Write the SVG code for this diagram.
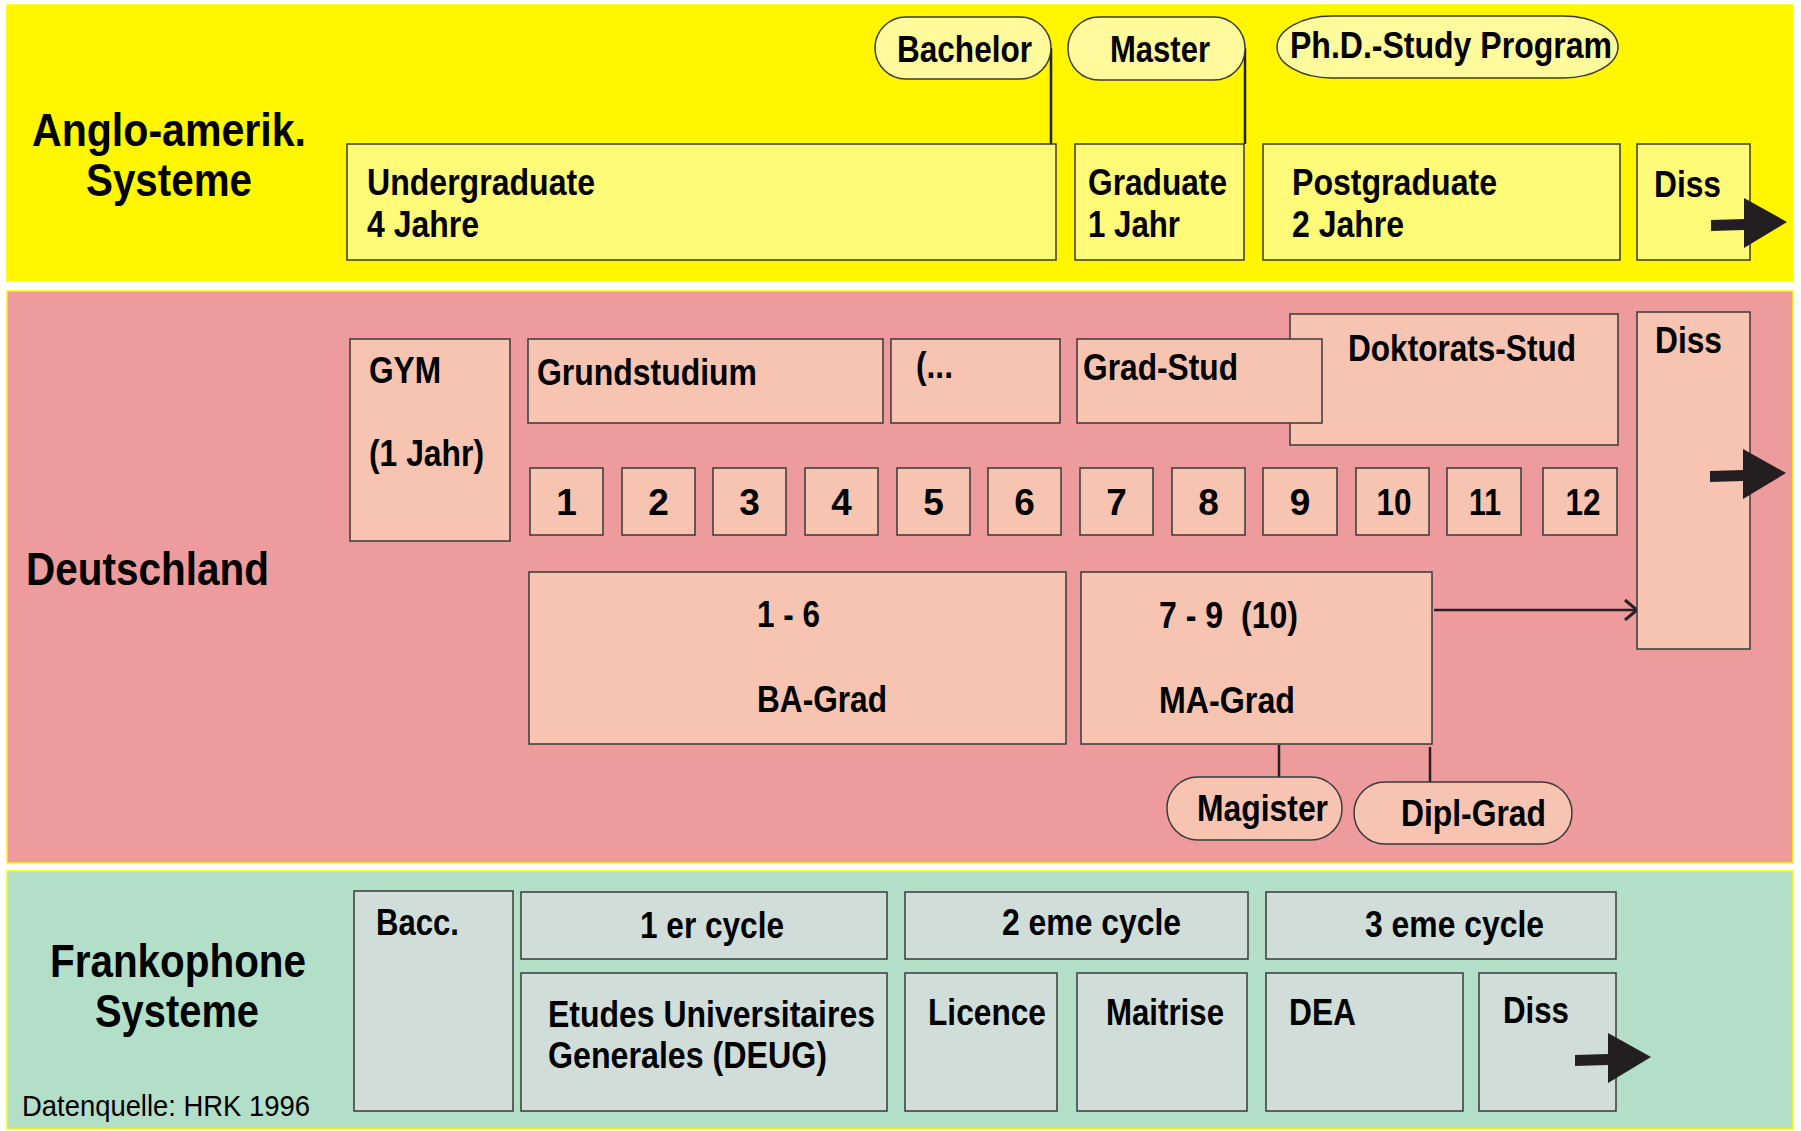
<svg xmlns="http://www.w3.org/2000/svg" width="1801" height="1131" viewBox="0 0 1801 1131">
<style>
  .band { stroke: #FFF600; stroke-width: 1.5; }
  .yb { fill: #FFFA78; stroke: #3a3a3a; stroke-width: 1.5; }
  .yp { fill: #FFFA9C; stroke: #3a3a3a; stroke-width: 1.5; }
  .pb { fill: #F6C4B1; stroke: #3a3a3a; stroke-width: 1.5; }
  .gb { fill: #D0DDD8; stroke: #3a3a3a; stroke-width: 1.5; }
  .t { font-family: "Liberation Sans", Arial, sans-serif; font-weight: bold; font-size: 37px; fill: #000; }
  .h { font-family: "Liberation Sans", Arial, sans-serif; font-weight: bold; font-size: 46px; fill: #000; }
  .src { font-family: "Liberation Sans", Arial, sans-serif; font-weight: normal; font-size: 30px; fill: #000; }
  .n { text-anchor: middle; }
  .conn { stroke: #222; stroke-width: 2.5; fill: none; }
  .thick { fill: #231F20; }
</style>
<defs>
  <path id="bigArrow" d="M0,0 L-43,-24 L-43,-3 L-76,-2 L-76,9 L-43,8 L-43,26 Z"/>
  <marker id="chev" viewBox="0 0 16 22" refX="14" refY="11" markerWidth="16" markerHeight="22" markerUnits="userSpaceOnUse" orient="auto">
    <path d="M2,1 L14,11 L2,21" fill="none" stroke="#222" stroke-width="3"/>
  </marker>
</defs>
<rect width="1801" height="1131" fill="#FFFFFF"/>

<!-- Bands -->
<g id="band-anglo"><rect class="band" x="7" y="5" width="1786" height="276" fill="#FFF600"/></g>
<g id="band-de"><rect class="band" x="7" y="291" width="1786" height="572" fill="#EE9B9D"/></g>
<g id="band-fr"><rect class="band" x="7" y="871" width="1786" height="258" fill="#B3DEC8"/></g>

<!-- Titles -->
<g id="title-anglo">
  <text class="h" x="32" y="146" textLength="274" lengthAdjust="spacingAndGlyphs">Anglo-amerik.</text>
  <text class="h" x="86" y="196" textLength="166" lengthAdjust="spacingAndGlyphs">Systeme</text>
</g>
<g id="title-de"><text class="h" x="26" y="585" textLength="243" lengthAdjust="spacingAndGlyphs">Deutschland</text></g>
<g id="title-fr">
  <text class="h" x="50" y="977" textLength="256" lengthAdjust="spacingAndGlyphs">Frankophone</text>
  <text class="h" x="95" y="1027" textLength="164" lengthAdjust="spacingAndGlyphs">Systeme</text>
  <text class="src" x="22" y="1116" textLength="288" lengthAdjust="spacingAndGlyphs">Datenquelle: HRK 1996</text>
</g>

<!-- Connectors -->
<g id="connectors">
  <line class="conn" x1="1051" y1="48" x2="1051" y2="144"/>
  <line class="conn" x1="1245" y1="48" x2="1245" y2="144"/>
  <line class="conn" x1="1279" y1="745" x2="1279" y2="777"/>
  <line class="conn" x1="1430" y1="747" x2="1430" y2="783"/>
  <line class="conn" x1="1434" y1="610" x2="1637" y2="610" stroke-width="3" marker-end="url(#chev)"/>
</g>

<!-- Anglo nodes -->
<g id="undergraduate">
  <rect class="yb" x="347" y="144" width="709" height="116"/>
  <text class="t" x="367" y="195" textLength="228" lengthAdjust="spacingAndGlyphs">Undergraduate</text>
  <text class="t" x="367" y="237" textLength="112" lengthAdjust="spacingAndGlyphs">4 Jahre</text>
</g>
<g id="graduate">
  <rect class="yb" x="1075" y="144" width="169" height="116"/>
  <text class="t" x="1088" y="195" textLength="139" lengthAdjust="spacingAndGlyphs">Graduate</text>
  <text class="t" x="1088" y="237" textLength="92" lengthAdjust="spacingAndGlyphs">1 Jahr</text>
</g>
<g id="postgraduate">
  <rect class="yb" x="1263" y="144" width="357" height="116"/>
  <text class="t" x="1292" y="195" textLength="205" lengthAdjust="spacingAndGlyphs">Postgraduate</text>
  <text class="t" x="1292" y="237" textLength="112" lengthAdjust="spacingAndGlyphs">2 Jahre</text>
</g>
<g id="diss-anglo">
  <rect class="yb" x="1637" y="144" width="113" height="116"/>
  <text class="t" x="1654" y="197" textLength="67" lengthAdjust="spacingAndGlyphs">Diss</text>
  <use href="#bigArrow" x="1787" y="222" class="thick"/>
</g>
<g id="bachelor">
  <rect class="yp" x="875" y="17" width="176" height="62" rx="31" ry="31"/>
  <text class="t" x="897" y="62" textLength="135" lengthAdjust="spacingAndGlyphs">Bachelor</text>
</g>
<g id="master">
  <rect class="yp" x="1068" y="17" width="177" height="63" rx="31" ry="31"/>
  <text class="t" x="1110" y="62" textLength="100" lengthAdjust="spacingAndGlyphs">Master</text>
</g>
<g id="phd">
  <rect class="yp" x="1277" y="16" width="341" height="62" rx="55" ry="31"/>
  <text class="t" x="1290" y="58" textLength="322" lengthAdjust="spacingAndGlyphs">Ph.D.-Study Program</text>
</g>

<!-- Deutschland nodes -->
<g id="gym">
  <rect class="pb" x="350" y="339" width="160" height="202"/>
  <text class="t" x="369" y="383" textLength="72" lengthAdjust="spacingAndGlyphs">GYM</text>
  <text class="t" x="369" y="466" textLength="115" lengthAdjust="spacingAndGlyphs">(1 Jahr)</text>
</g>
<g id="grundstudium">
  <rect class="pb" x="528" y="339" width="355" height="84"/>
  <text class="t" x="537" y="385" textLength="220" lengthAdjust="spacingAndGlyphs">Grundstudium</text>
</g>
<g id="ellipsis">
  <rect class="pb" x="891" y="339" width="169" height="84"/>
  <text class="t" x="916" y="378" textLength="37" lengthAdjust="spacingAndGlyphs">(...</text>
</g>
<g id="doktorats">
  <rect class="pb" x="1290" y="314" width="328" height="131"/>
  <text class="t" x="1348" y="361" textLength="228" lengthAdjust="spacingAndGlyphs">Doktorats-Stud</text>
</g>
<g id="grad-stud">
  <rect class="pb" x="1077" y="339" width="245" height="84"/>
  <text class="t" x="1083" y="380" textLength="155" lengthAdjust="spacingAndGlyphs">Grad-Stud</text>
</g>
<g id="diss-de">
  <rect class="pb" x="1637" y="312" width="113" height="337"/>
  <text class="t" x="1655" y="353" textLength="67" lengthAdjust="spacingAndGlyphs">Diss</text>
  <use href="#bigArrow" x="1786" y="473" class="thick"/>
</g>
<g id="semesters">
  <rect class="pb" x="530" y="468" width="73" height="67"/><text class="t n" x="566.5" y="515">1</text>
  <rect class="pb" x="622" y="468" width="73" height="67"/><text class="t n" x="658.5" y="515">2</text>
  <rect class="pb" x="713" y="468" width="73" height="67"/><text class="t n" x="749.5" y="515">3</text>
  <rect class="pb" x="805" y="468" width="73" height="67"/><text class="t n" x="841.5" y="515">4</text>
  <rect class="pb" x="897" y="468" width="73" height="67"/><text class="t n" x="933.5" y="515">5</text>
  <rect class="pb" x="988" y="468" width="73" height="67"/><text class="t n" x="1024.5" y="515">6</text>
  <rect class="pb" x="1080" y="468" width="73" height="67"/><text class="t n" x="1116.5" y="515">7</text>
  <rect class="pb" x="1172" y="468" width="73" height="67"/><text class="t n" x="1208.5" y="515">8</text>
  <rect class="pb" x="1263" y="468" width="74" height="67"/><text class="t n" x="1300" y="515">9</text>
  <rect class="pb" x="1356" y="468" width="73" height="67"/><text class="t n" x="1394" y="515" textLength="35" lengthAdjust="spacingAndGlyphs">10</text>
  <rect class="pb" x="1447" y="468" width="74" height="67"/><text class="t n" x="1485" y="515" textLength="32" lengthAdjust="spacingAndGlyphs">11</text>
  <rect class="pb" x="1543" y="468" width="74" height="67"/><text class="t n" x="1583" y="515" textLength="35" lengthAdjust="spacingAndGlyphs">12</text>
</g>
<g id="ba-grad">
  <rect class="pb" x="529" y="572" width="537" height="172"/>
  <text class="t" x="757" y="627" textLength="63" lengthAdjust="spacingAndGlyphs" xml:space="preserve">1 - 6</text>
  <text class="t" x="757" y="712" textLength="130" lengthAdjust="spacingAndGlyphs">BA-Grad</text>
</g>
<g id="ma-grad">
  <rect class="pb" x="1081" y="572" width="351" height="172"/>
  <text class="t" x="1159" y="628" textLength="139" lengthAdjust="spacingAndGlyphs" xml:space="preserve">7 - 9  (10)</text>
  <text class="t" x="1159" y="713" textLength="136" lengthAdjust="spacingAndGlyphs">MA-Grad</text>
</g>
<g id="magister">
  <rect class="pb" x="1167" y="777" width="175" height="63" rx="31" ry="31"/>
  <text class="t" x="1197" y="821" textLength="131" lengthAdjust="spacingAndGlyphs">Magister</text>
</g>
<g id="dipl-grad">
  <rect class="pb" x="1354" y="782" width="218" height="62" rx="31" ry="31"/>
  <text class="t" x="1401" y="826" textLength="145" lengthAdjust="spacingAndGlyphs">Dipl-Grad</text>
</g>

<!-- Frankophone nodes -->
<g id="bacc">
  <rect class="gb" x="354" y="891" width="159" height="220"/>
  <text class="t" x="376" y="935" textLength="83" lengthAdjust="spacingAndGlyphs">Bacc.</text>
</g>
<g id="cycle1">
  <rect class="gb" x="521" y="892" width="366" height="67"/>
  <text class="t" x="640" y="938" textLength="144" lengthAdjust="spacingAndGlyphs">1 er cycle</text>
</g>
<g id="deug">
  <rect class="gb" x="521" y="973" width="366" height="138"/>
  <text class="t" x="548" y="1027" textLength="327" lengthAdjust="spacingAndGlyphs">Etudes Universitaires</text>
  <text class="t" x="548" y="1068" textLength="279" lengthAdjust="spacingAndGlyphs">Generales (DEUG)</text>
</g>
<g id="cycle2">
  <rect class="gb" x="905" y="892" width="343" height="67"/>
  <text class="t" x="1002" y="935" textLength="179" lengthAdjust="spacingAndGlyphs">2 eme cycle</text>
</g>
<g id="cycle3">
  <rect class="gb" x="1266" y="892" width="350" height="67"/>
  <text class="t" x="1365" y="937" textLength="179" lengthAdjust="spacingAndGlyphs">3 eme cycle</text>
</g>
<g id="licence">
  <rect class="gb" x="905" y="973" width="152" height="138"/>
  <text class="t" x="928" y="1025" textLength="118" lengthAdjust="spacingAndGlyphs">Licence</text>
</g>
<g id="maitrise">
  <rect class="gb" x="1077" y="973" width="170" height="138"/>
  <text class="t" x="1106" y="1025" textLength="118" lengthAdjust="spacingAndGlyphs">Maitrise</text>
</g>
<g id="dea">
  <rect class="gb" x="1266" y="973" width="197" height="138"/>
  <text class="t" x="1289" y="1025" textLength="67" lengthAdjust="spacingAndGlyphs">DEA</text>
</g>
<g id="diss-fr">
  <rect class="gb" x="1479" y="973" width="137" height="138"/>
  <text class="t" x="1503" y="1023" textLength="66" lengthAdjust="spacingAndGlyphs">Diss</text>
  <use href="#bigArrow" x="1651" y="1057" class="thick"/>
</g>
</svg>
